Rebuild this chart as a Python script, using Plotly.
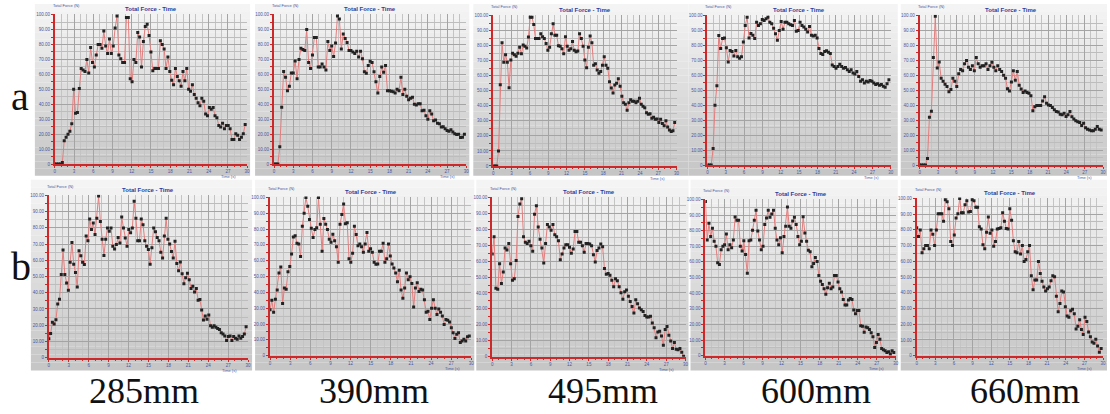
import plotly.graph_objects as go

W, H = 1110, 414

# ---------------- data (force as % of each panel's axis span) ----------------
row_labels = ["a", "b"]
lengths = ["285mm", "390mm", "495mm", "600mm", "660mm"]
chart_title = "Total Force - Time"
y_title = "Total Force (N)"
x_title = "Time (s)"
duration = 29.7          # s, recording length
x_ticks = [0, 3, 6, 9, 12, 15, 18, 21, 24, 27, 30]
y_ticks = [0, 10, 20, 30, 40, 50, 60, 70, 80, 90, 100]

a_285 = [0, 0, 0, 0, 1, 15.5, 18, 20, 22, 27, 50, 34, 34.5, 50.5, 64, 63, 62, 70, 61, 78,
         68, 65, 73, 80, 80, 77.5, 89, 79, 74, 83.6, 74, 79, 91, 99, 73, 70.5, 68, 68, 98, 98,
         57, 55, 70, 68, 88, 85, 65, 82, 92, 93.5, 86, 75, 62.5, 64, 64, 64, 82.5, 80, 77, 64,
         71.6, 62, 56, 53, 64, 58.5, 55.7, 52, 62, 55.7, 64, 50, 48.7, 53, 46.5, 44, 41, 39, 44, 42,
         33.4, 32.3, 37.8, 36.7, 37.8, 32.3, 31, 25.8, 24.7, 27.3, 23.6, 25.8, 25.8, 23.6, 16.4,
         16.4, 20.3, 19.2, 16.4, 18, 20.3, 26.4]
a_390 = [0, 0, 0, 11.6, 38, 62, 58, 49, 52, 61, 61, 69, 57, 70, 77.5, 76.7, 76, 90, 68, 64,
         73, 84.7, 84.7, 65, 65, 67, 65, 63, 82, 76, 79, 72, 81, 99, 97, 77, 87, 84, 81.4, 76,
         76, 75, 74, 75.5, 71.6, 75.5, 70.5, 61.8, 60.7, 66, 68.8, 68, 61.8, 55, 47.6, 58.5, 65,
         61.4, 66, 49, 49, 48.7, 48.3, 47.6, 50, 49, 58, 46.5, 50, 45.4, 43, 44, 44.7, 40, 39.5,
         40.4, 40.4, 35.6, 36, 32.3, 30, 35.6, 33.4, 29, 29.5, 27.3, 27, 24.7, 25, 23.6, 22.5, 22,
         23, 21.4, 20.3, 19.7, 19.9, 17.7, 18, 19.9]
a_495 = [0, 0, 0, 10, 54, 82, 69, 74, 69, 52, 70.5, 75, 74, 73, 75, 79, 74.6, 80.5, 79.6, 78.5,
         85.8, 98.9, 98.9, 94, 84.7, 84.7, 84.7, 88, 86, 84.7, 81.4, 77, 79, 88, 94.5, 87, 87, 80,
         79.6, 78, 74.6, 86, 79.6, 77, 78, 82.7, 77, 76, 76.4, 88, 84.7, 79.6, 70.5, 65.4, 79, 86.4,
         82, 67, 68, 63.9, 61.7, 62.8, 67, 72.6, 67, 65, 56, 51.9, 48.6, 53.8, 55, 58, 53, 46.4, 42,
         41, 37, 42, 44, 43, 43, 42, 43, 45, 41, 39.8, 38.7, 35.4, 34.4, 34.7, 31.7, 32.4, 31, 31.3,
         28.9, 31, 28.2, 26.7, 30, 26, 23.9, 23, 23.4, 28.9]
a_600 = [0, 0, 0, 11, 40, 53, 86.6, 78, 84.6, 85, 78.5, 69, 76.7, 76, 73, 76.7, 72.5, 71.4, 72.5,
         82.4, 93.4, 98.9, 85, 88, 86.8, 84.6, 95.6, 93.4, 94.5, 97.4, 96.7, 97.8, 98.9, 95.6, 94.5,
         91.6, 87.9, 83.5, 90, 96, 90.8, 95.6, 95.6, 94.5, 93.8, 93.4, 96.7, 89.5, 90, 95.6, 93.4,
         92.3, 90.8, 89, 92.7, 86.8, 86.4, 86.8, 85, 78, 74.7, 74, 76, 76.5, 75.4, 74.7, 67, 66,
         64.8, 66, 67.5, 66, 64.8, 65.3, 63.7, 62.6, 63.7, 61.5, 60.9, 62.6, 59.3, 56, 57, 54.9, 56,
         55.6, 56.5, 56, 54.9, 53.8, 54.3, 53.4, 53.8, 52.7, 52, 54.3, 57]
a_660 = [0, 0, 0, 0, 4.4, 32, 36, 72, 99.5, 65, 69, 58, 56, 54, 52.5, 49, 50.5, 58, 56, 52.5, 61,
         64, 63, 67.7, 70, 65.5, 64, 66.4, 63, 72, 67.7, 65.5, 66.4, 66.4, 67.7, 64, 66.4, 68.8,
         65.5, 63, 66.4, 64, 62.6, 60, 58, 51, 49.5, 55.6, 63, 56.7, 62.6, 53.4, 50.8, 48.6, 49.5,
         48.6, 48, 46.4, 36.3, 39, 39.8, 39.8, 39.8, 42.9, 45.7, 41.3, 40.2, 39.8, 38.5, 36.9, 35.8,
         35.4, 34, 33.6, 34.7, 32.5, 33.6, 35.8, 32.3, 30.8, 29.7, 29, 28.4, 26.4, 27.9, 25, 24,
         23.5, 23, 23, 24, 25.7, 24, 23.5]

b_285 = [11.7, 14.9, 21.8, 20.8, 23.4, 33.1, 36, 51.3, 66.3, 51.3, 46, 41.6, 58.8, 71, 57.6, 52.5,
         43.6, 65.9, 62.8, 58.8, 57.4, 75, 72, 85.5, 79, 83, 76, 86, 99.6, 84, 73, 63, 73, 80, 78,
         80, 68.7, 67, 69.7, 74, 70.7, 86.7, 80, 73.7, 68.7, 79, 77, 80, 96.4, 86, 72, 72, 85.5, 82,
         72, 68.7, 66.7, 57.6, 67.7, 80, 77.6, 74, 72, 65, 61.4, 75, 86, 73, 70, 65.5, 61.4, 71.7,
         58, 53.5, 59, 51.7, 45.6, 49.3, 52, 48, 42.6, 44, 40.5, 42.6, 35.4, 35.8, 29.3, 23.2, 25.7,
         23.6, 26.3, 19.6, 18.8, 19.6, 18.8, 18, 17.4, 15.4, 14.6, 13.4, 10.5, 13, 13.4, 10.5, 13,
         12, 11.3, 13.4, 12, 13, 14.6, 19]
b_390 = [29, 35, 27.4, 35.7, 41.5, 52.3, 56, 33, 42.7, 42, 53, 56.4, 64.3, 75, 75.7, 71, 70.5,
         62.6, 81.7, 90, 100, 94.4, 86, 80.5, 74.7, 79.7, 80.9, 100, 83, 66, 86.7, 83, 79.7, 73.6,
         71.6, 76.8, 72.6, 68.9, 59, 83, 89.2, 95.9, 83.4, 84, 61.2, 59, 64.7, 81.7, 76.5, 69.5,
         70.5, 68.9, 65.4, 70.5, 77.8, 66, 67.5, 65.4, 59, 57.7, 58, 66, 66, 71, 59, 61.2, 70.5, 63,
         58, 55.4, 52.3, 46.7, 53.9, 41.5, 36.3, 42.7, 52.3, 48, 49.8, 45.6, 30.7, 42.7, 46, 40.5,
         41.9, 41.5, 35.3, 27.4, 28, 22.8, 30, 35.3, 30, 26, 29.5, 27.4, 25, 19.7, 22.8, 22.4, 21.2,
         17.6, 14.5, 10.8, 13.5, 14.5, 8.3, 9.3, 10.4, 9.3, 12, 12.4]
b_495 = [64.5, 75.3, 42.9, 42.3, 58.4, 46, 53.2, 68.2, 67, 71, 58.4, 48, 49, 60.4, 88, 95.9, 99.2,
         75.3, 71.8, 71, 72.4, 69.7, 66.2, 89.5, 94.8, 81.4, 73.8, 68.2, 58.8, 71, 83, 81.4, 79.4,
         83, 76.5, 75.3, 72.8, 60.8, 64.5, 68.2, 70.3, 70.3, 68.7, 64.9, 67.6, 78.6, 78.6, 71.8,
         71.8, 69.7, 65.6, 71.1, 71.1, 70.7, 69.7, 64, 59.4, 66.6, 68.2, 70.7, 69, 55.3, 51.8, 52.2,
         51.1, 48, 43.9, 49, 47.6, 43.9, 40.2, 36, 40.8, 41.9, 38, 34.6, 31.5, 27.4, 35.7, 33.2,
         30.5, 29.5, 28.4, 25.8, 24.9, 24.9, 25.4, 21.2, 18.1, 11.9, 15.5, 16, 12.9, 7.2, 17, 19,
         13.4, 9.9, 5.2, 8.9, 4.7, 4.3, 5.2, 2.7, 0.2]
b_600 = [98.7, 74, 84.7, 76.2, 81.6, 73.2, 70, 59.4, 58.4, 67.8, 70, 71, 77.8, 67.8, 71, 69, 74,
         88.7, 86.6, 86.6, 70, 66.9, 73.6, 64.8, 52.7, 73.6, 74, 80.3, 86.6, 93, 79.7, 74, 67.8, 70,
         83.9, 88.1, 93, 88.5, 90.6, 93, 81.6, 74, 71, 75.5, 65.9, 76.2, 82.8, 95.2, 82.8, 81.6,
         86.2, 88.5, 83.9, 76.2, 71, 73.2, 88.9, 78.5, 73.2, 67.4, 66.5, 56.9, 59, 62.8, 60.2, 51.3,
         47.7, 45.6, 42.9, 39.3, 43.5, 46.4, 42.9, 43.9, 51.3, 51.3, 47.1, 42.9, 40.8, 36, 32.4,
         32.4, 35.6, 36.6, 36, 29.3, 26.8, 28.9, 28.9, 19.2, 18.8, 15, 18.4, 17.8, 16.7, 14.6, 12.1,
         5.2, 8.4, 13.6, 10.5, 4.6, 3.8, 3.1, 2.1, 2.5, 1, 3.1, 2.1]
b_660 = [81.3, 75.7, 79.9, 65.4, 68, 70.1, 70.1, 68, 79.9, 77.2, 70.1, 79.9, 90.2, 90.2, 90.2,
         85.5, 99.2, 97.9, 93.4, 72.6, 70.1, 76.8, 87.6, 90.2, 100, 90.9, 90.9, 95.9, 98.5, 91.3,
         91.7, 99.2, 98.5, 94.4, 94.4, 82, 80.5, 70.5, 68, 78.4, 88.2, 77.8, 79.9, 69.5, 72.6, 80.5,
         80.9, 81.3, 90.9, 85.5, 80.9, 80.5, 93.4, 86.1, 73, 66, 65.4, 72.6, 64.7, 70.1, 59.8, 61.2,
         66, 70.1, 50.8, 41.9, 48.1, 48.1, 59.8, 52.3, 47.3, 43.6, 41.1, 42.5, 43.6, 47.7, 50.8,
         50.2, 37.8, 28, 33.2, 41.1, 40.5, 31.1, 25.3, 24.5, 28.6, 29.5, 26.6, 17, 18.7, 22.8, 16.6,
         13.5, 24.5, 21.8, 15, 12, 8.7, 7.9, 10.4, 6.2, 2.1, 4.6]

series = [a_285, a_390, a_495, a_600, a_660, b_285, b_390, b_495, b_600, b_660]

# ---------------- layout geometry (pixels) ----------------
# plot areas: x0, x1, ytop, ybottom
plot_boxes = [
    (54, 247, 12, 164), (274, 467, 12, 164), (494, 678, 13, 166), (709, 893, 13, 165), (922, 1106, 13, 165),
    (48, 248, 195, 360), (270, 472, 197, 358), (493, 687, 197, 359), (707, 898, 199, 358), (919, 1106, 198, 358),
]
frames = [
    (34, 250, 2, 176), (255, 470, 2, 176), (474, 690, 2, 176), (690, 900, 2, 176), (903, 1110, 2, 176),
    (30, 252, 180, 373), (255, 475, 180, 373), (477, 690, 180, 373), (692, 900, 180, 373), (903, 1110, 180, 373),
]

def px(x):
    return x / W

def py(y):
    return 1 - y / H

fig = go.Figure()
shapes = []
annotations = []
RED = "#cc2a2a"
TICKFONT = dict(family="Liberation Sans", size=4.5, color="#4a58a0")

# gradient frames
nb = 24
for (fx0, fx1, fy0, fy1) in frames:
    for k in range(nb):
        t = k / (nb - 1)
        g = int(244 - t * 46)
        shapes.append(dict(type="rect", xref="paper", yref="paper", layer="below",
                           x0=px(fx0), x1=px(fx1),
                           y0=py(fy0 + (fy1 - fy0) * (k + 1) / nb), y1=py(fy0 + (fy1 - fy0) * k / nb),
                           line=dict(width=0), fillcolor=f"rgb({g},{g},{g})"))

for i, vals in enumerate(series):
    n = len(vals)
    t = [duration * j / (n - 1) for j in range(n)]
    sfx = "" if i == 0 else str(i + 1)
    fig.add_trace(go.Scatter(
        x=t, y=vals, xaxis="x" + sfx, yaxis="y" + sfx, mode="lines+markers",
        line=dict(color="#e37d7d", width=1),
        marker=dict(color="#222222", size=3, symbol="square"),
        showlegend=False, hoverinfo="skip"))
    x0, x1, y0, y1 = plot_boxes[i]
    common_grid = dict(showgrid=True, gridcolor="#a4a4a4", gridwidth=1, zeroline=False,
                       showline=True, linecolor=RED, linewidth=2, mirror=False,
                       ticks="outside", tickcolor=RED, ticklen=2, tickwidth=1,
                       tickfont=TICKFONT)
    fig.layout["xaxis" + sfx] = dict(
        domain=[px(x0), px(x1)], anchor="y" + sfx, range=[0, 30],
        tickvals=x_ticks, ticktext=[str(v) for v in x_ticks],
        minor=dict(dtick=1, showgrid=True, gridcolor="#c4c4c4", gridwidth=1,
                   ticks="outside", ticklen=1, tickcolor=RED),
        fixedrange=True, **common_grid)
    fig.layout["yaxis" + sfx] = dict(
        domain=[py(y1), py(y0)], anchor="x" + sfx, range=[0, 100.5],
        tickvals=y_ticks, ticktext=[f"{v:.2f}" if v else "0" for v in y_ticks],
        minor=dict(dtick=5, showgrid=True, gridcolor="#bdbdbd", gridwidth=1,
                   ticks="outside", ticklen=2, tickcolor=RED),
        fixedrange=True, **common_grid)
    # titles
    annotations.append(dict(text="<b>" + chart_title + "</b>", xref="paper", yref="paper",
                            x=px((x0 + x1) / 2), y=py(y0 - 5), xanchor="center", yanchor="middle",
                            showarrow=False, font=dict(family="Liberation Sans", size=6, color="#2b3c9c")))
    annotations.append(dict(text=y_title, xref="paper", yref="paper",
                            x=px(x0 - 4), y=py(y0 - 8), xanchor="left", yanchor="middle",
                            showarrow=False, font=dict(family="Liberation Sans", size=4, color="#4a58a0")))
    annotations.append(dict(text=x_title, xref="paper", yref="paper",
                            x=px(x1 - 19), y=py(y1 + 12.5), xanchor="center", yanchor="middle",
                            showarrow=False, font=dict(family="Liberation Sans", size=4, color="#4a58a0")))

# row letters and length labels
annotations.append(dict(text=row_labels[0], xref="paper", yref="paper", x=px(19), y=py(96),
                        xanchor="center", yanchor="middle", showarrow=False,
                        font=dict(family="Liberation Serif", size=40, color="#111")))
annotations.append(dict(text=row_labels[1], xref="paper", yref="paper", x=px(20), y=py(268),
                        xanchor="center", yanchor="middle", showarrow=False,
                        font=dict(family="Liberation Serif", size=40, color="#111")))
label_x = [144, 374, 604, 818, 1028]
for lx, lab in zip(label_x, lengths):
    annotations.append(dict(text=lab, xref="paper", yref="paper", x=px(lx), y=py(394),
                            xanchor="center", yanchor="middle", showarrow=False,
                            font=dict(family="Liberation Serif", size=36, color="#111")))

fig.update_layout(width=W, height=H, autosize=False, margin=dict(l=0, r=0, t=0, b=0),
                  paper_bgcolor="white", plot_bgcolor="rgba(0,0,0,0)",
                  shapes=shapes, annotations=annotations)
fig.write_html("out.html")
